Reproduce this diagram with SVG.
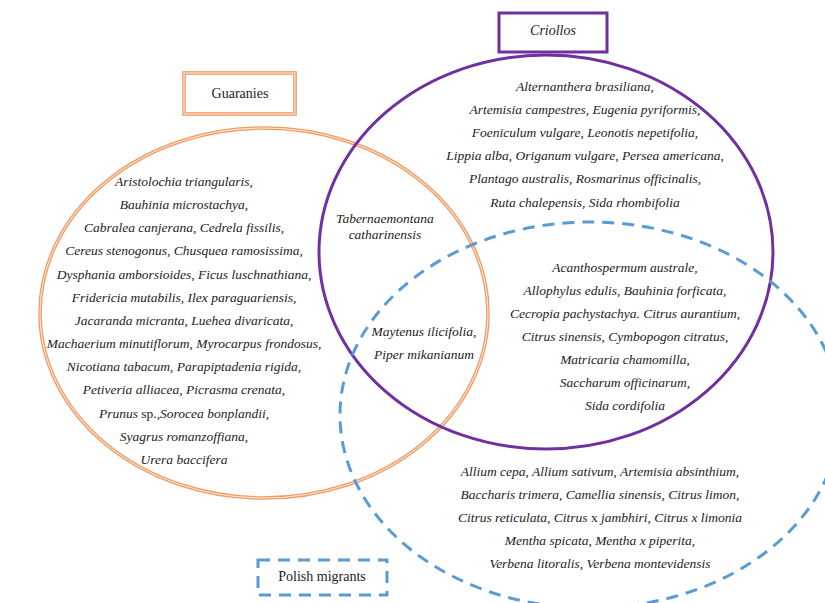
<svg xmlns="http://www.w3.org/2000/svg" width="825" height="603" viewBox="0 0 825 603">
<style>
text{font-family:'Liberation Serif','Times New Roman','DejaVu Serif',serif}
.t{font-size:13.5px;font-style:italic;fill:#222;text-anchor:middle}
.lbl{font-size:14px;fill:#222;text-anchor:middle}
.up{font-style:normal}
.or{fill:none;stroke:#EE9A63;stroke-width:3.6}
.orin{fill:none;stroke:#FCE6D6;stroke-width:1.1}
.pu{fill:none;stroke:#7030A0;stroke-width:3}
.bl{fill:none;stroke:#5B9BD5;stroke-width:3;stroke-dasharray:12 8}
</style>
<rect width="825" height="603" fill="#fff"/>
<g id="guaranies">
<ellipse class="or" cx="264" cy="313" rx="224" ry="185"/>
<ellipse class="orin" cx="264" cy="313" rx="224" ry="185"/>
<rect class="or" x="184" y="73" width="111" height="41"/>
<rect class="orin" x="184" y="73" width="111" height="41"/>
<text class="lbl" x="240" y="98">Guaranies</text>
<text class="t" x="184" y="186">Aristolochia triangularis,</text>
<text class="t" x="184" y="209">Bauhinia microstachya,</text>
<text class="t" x="184" y="232">Cabralea canjerana, Cedrela fissilis,</text>
<text class="t" x="184" y="255">Cereus stenogonus, Chusquea ramosissima,</text>
<text class="t" x="184" y="279">Dysphania amborsioides, Ficus luschnathiana,</text>
<text class="t" x="184" y="302">Fridericia mutabilis, Ilex paraguariensis,</text>
<text class="t" x="184" y="325">Jacaranda micranta, Luehea divaricata,</text>
<text class="t" x="184" y="348">Machaerium minutiflorum, Myrocarpus frondosus,</text>
<text class="t" x="184" y="371">Nicotiana tabacum, Parapiptadenia rigida,</text>
<text class="t" x="184" y="394">Petiveria alliacea, Picrasma crenata,</text>
<text class="t" x="184" y="418">Prunus <tspan class="up">sp.</tspan>,Sorocea bonplandii,</text>
<text class="t" x="184" y="441">Syagrus romanzoffiana,</text>
<text class="t" x="184" y="464">Urera baccifera</text>
</g>
<g id="criollos">
<ellipse class="pu" cx="546" cy="252" rx="227" ry="197"/>
<rect class="pu" x="499" y="13" width="108" height="39"/>
<text class="lbl" x="553" y="35" font-style="italic">Criollos</text>
<text class="t" x="585" y="91">Alternanthera brasiliana,</text>
<text class="t" x="585" y="114">Artemisia campestres, Eugenia pyriformis,</text>
<text class="t" x="585" y="137">Foeniculum vulgare, Leonotis nepetifolia,</text>
<text class="t" x="585" y="160">Lippia alba, Origanum vulgare, Persea americana,</text>
<text class="t" x="585" y="183">Plantago australis, Rosmarinus officinalis,</text>
<text class="t" x="585" y="207">Ruta chalepensis, Sida rhombifolia</text>
</g>
<g id="polish">
<ellipse class="bl" cx="590" cy="415" rx="250" ry="193"/>
<rect class="bl" x="258" y="560" width="129" height="35"/>
<text class="lbl" x="322" y="581">Polish migrants</text>
<text class="t" x="600" y="476">Allium cepa, Allium sativum, Artemisia absinthium,</text>
<text class="t" x="600" y="499">Baccharis trimera, Camellia sinensis, Citrus limon,</text>
<text class="t" x="600" y="522">Citrus reticulata, Citrus <tspan class="up">x</tspan> jambhiri, Citrus x limonia</text>
<text class="t" x="600" y="545">Mentha spicata, Mentha x piperita,</text>
<text class="t" x="600" y="568">Verbena litoralis, Verbena montevidensis</text>
</g>
<g id="overlaps">
<text class="t" x="385" y="223">Tabernaemontana</text>
<text class="t" x="385" y="239">catharinensis</text>
<text class="t" x="424" y="336">Maytenus ilicifolia,</text>
<text class="t" x="424" y="359">Piper mikanianum</text>
<text class="t" x="625" y="272">Acanthospermum australe,</text>
<text class="t" x="625" y="295">Allophylus edulis, Bauhinia forficata,</text>
<text class="t" x="625" y="318">Cecropia pachystachya. Citrus aurantium,</text>
<text class="t" x="625" y="341">Citrus sinensis, Cymbopogon citratus,</text>
<text class="t" x="625" y="364">Matricaria chamomilla,</text>
<text class="t" x="625" y="387">Saccharum officinarum,</text>
<text class="t" x="625" y="410">Sida cordifolia</text>
</g>
<g id="connectors"></g>
</svg>
